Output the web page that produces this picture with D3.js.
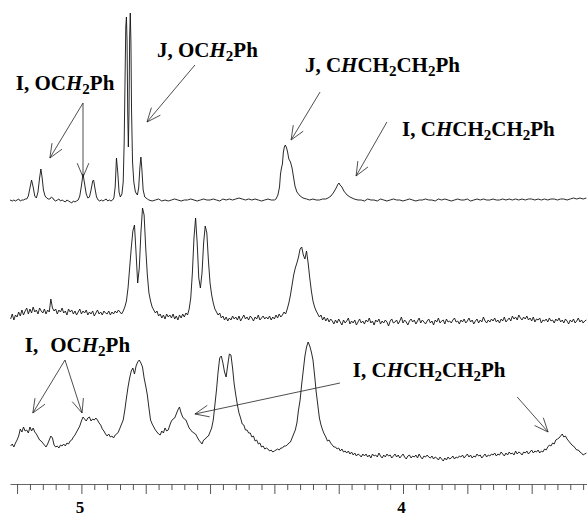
<!DOCTYPE html>
<html>
<head>
<meta charset="utf-8">
<script src="https://cdn.jsdelivr.net/npm/d3@7"></script>
<style>
  body { margin: 0; background: #fff; }
  svg { display: block; }
  .lbl { font-family: "Liberation Serif", "Times New Roman", serif; font-weight: bold; font-size: 21px; fill: #000; }
  .ppm { font-family: "Liberation Serif", "Times New Roman", serif; font-weight: bold; font-size: 17px; }
</style>
</head>
<body>
<div id="chart"></div>
<script>
// chemical shift window (ppm), axis runs right to left
const ppmDomain = [5.222, 3.428];

// top spectrum: [ppm, intensity]
const topTrace = [
  [5.222,2],[5.215,1],[5.21,2],[5.205,1],[5.20,2],[5.195,3],[5.19,1],[5.185,2],[5.18,2],[5.175,3],
  [5.17,3],[5.165,6],[5.16,14],[5.155,22],[5.15,15],[5.145,6],[5.14,4],[5.135,10],[5.13,24],[5.126,33],
  [5.122,24],[5.118,12],[5.113,6],[5.108,4],[5.103,3],[5.098,3],[5.093,5],[5.089,4],[5.085,2],[5.08,1],
  [5.075,2],[5.07,3],[5.065,1],[5.06,2],[5.055,1],[5.05,0],[5.045,2],[5.04,1],[5.035,0],[5.03,-1],
  [5.025,1],[5.02,0],[5.015,1],[5.01,2],[5.005,6],[5.0,16],[4.995,28],[4.99,18],[4.985,8],[4.98,4],
  [4.975,5],[4.97,12],[4.965,21],[4.962,22],[4.958,14],[4.953,5],[4.948,2],[4.943,1],[4.938,2],[4.933,1],
  [4.928,2],[4.923,3],[4.918,1],[4.913,2],[4.908,1],[4.903,2],[4.899,4],[4.895,15],[4.891,44],[4.887,30],
  [4.883,10],[4.879,5],[4.874,8],[4.870,20],[4.867,60],[4.864,130],[4.862,175],[4.860,185],[4.858,160],[4.856,90],
  [4.854,55],[4.852,90],[4.850,165],[4.848,189],[4.846,160],[4.844,90],[4.841,40],[4.837,20],[4.832,10],[4.826,7],
  [4.822,14],[4.818,35],[4.815,45],[4.812,33],[4.808,12],[4.803,5],[4.795,3],
  [4.79,2],[4.78,1],[4.77,2],[4.76,3],[4.75,1],[4.74,2],[4.73,1],[4.72,2],[4.71,3],[4.70,2],
  [4.69,1],[4.68,2],[4.67,2],[4.66,3],[4.65,2],[4.64,1],[4.63,2],[4.62,3],[4.61,2],[4.60,2],
  [4.59,3],[4.58,2],[4.57,1],[4.56,3],[4.55,2],[4.54,3],[4.53,2],[4.52,3],[4.51,4],[4.50,3],
  [4.49,2],[4.48,3],[4.47,2],[4.46,3],[4.45,2],[4.44,1],[4.43,2],[4.42,3],[4.41,2],[4.40,2],
  [4.395,3],[4.389,7],[4.384,15],[4.381,28],[4.378,34],[4.375,38],[4.372,50],[4.369,55],[4.366,57],[4.362,54],
  [4.359,50],[4.355,43],[4.350,40],[4.345,34],[4.341,26],[4.336,16],[4.330,10],[4.320,6],[4.311,4],[4.30,3],
  [4.29,2],[4.28,3],[4.27,2],[4.26,2],[4.25,3],[4.24,3],[4.233,4],[4.224,6],[4.215,10],[4.208,14],
  [4.202,18],[4.199,19],[4.196,17],[4.190,15],[4.184,11],[4.174,7],[4.165,5],[4.152,3],[4.14,2],
  [4.13,2],[4.12,1],[4.11,3],[4.10,2],[4.09,2],[4.08,1],[4.07,3],[4.06,2],[4.05,1],[4.04,2],
  [4.03,3],[4.02,2],[4.01,2],[4.00,1],[3.99,2],[3.98,3],[3.97,2],[3.96,1],[3.95,2],[3.94,2],
  [3.93,3],[3.92,2],[3.91,2],[3.90,1],[3.89,3],[3.88,2],[3.87,3],[3.86,2],[3.85,1],[3.84,2],
  [3.83,3],[3.82,2],[3.81,2],[3.80,3],[3.79,1],[3.78,2],[3.77,3],[3.76,2],[3.75,3],[3.74,2],
  [3.73,2],[3.72,3],[3.71,2],[3.70,2],[3.69,3],[3.68,2],[3.67,3],[3.66,2],[3.65,3],[3.64,2],
  [3.63,3],[3.62,2],[3.61,3],[3.60,3],[3.59,2],[3.58,3],[3.57,2],[3.56,3],[3.55,2],[3.54,3],
  [3.53,3],[3.52,2],[3.51,3],[3.50,3],[3.49,2],[3.48,3],[3.47,4],[3.46,3],[3.45,4],[3.44,3],[3.43,4]
];

// middle and bottom spectra sampled on a fixed ppm grid
const gridStart = 5.22, gridStep = 0.005;
const middleInt = [
  4,9,3,8,6,11,7,13,8,12,15,9,14,10,16,11,13,9,15,12,
  10,14,9,13,11,24,15,12,14,9,13,11,15,10,12,8,14,11,13,9,
  12,8,11,14,9,12,10,13,8,11,9,12,7,10,13,9,11,8,12,10,
  9,12,8,11,9,12,10,13,11,9,12,16,22,35,55,75,92,98,70,40,
  55,90,115,108,75,48,30,22,16,13,10,12,7,9,5,8,4,9,6,8,
  5,9,4,7,3,8,5,9,6,10,8,14,25,50,85,105,80,45,35,50,
  80,97,90,62,40,28,20,14,11,8,10,5,7,3,6,2,5,3,7,4,
  6,3,7,2,5,8,4,6,3,7,5,2,6,4,8,3,5,7,4,6,
  4,7,3,6,4,8,5,9,6,8,11,9,14,20,28,38,48,55,60,66,
  74,76,68,64,72,60,45,32,22,16,12,9,6,8,3,6,2,5,1,4,
  2,-1,3,0,4,1,-2,3,0,2,5,-1,2,0,3,-2,1,4,0,2,
  -1,3,1,5,0,2,-2,3,1,4,-1,2,0,3,1,-3,2,4,0,1,
  3,-1,2,6,0,3,1,-2,2,4,1,3,-1,2,5,0,3,1,-1,2,
  4,0,2,-2,3,1,5,0,2,3,-1,4,1,2,0,3,5,1,2,-1,
  3,1,4,0,2,5,1,3,-1,2,4,0,3,1,6,2,0,3,1,4,
  2,5,1,3,0,4,2,6,1,3,5,2,7,4,6,3,8,5,3,6,
  4,7,3,5,2,6,1,4,3,5,0,3,2,4,1,5,2,3,0,4,
  2,5,1,3,0,4,2,-1,3,1,4,0,2,5,1,3,0,2,3
];
const bottomInt = [
  14,16,13,17,20,24,31,28,33,29,30,27,33,29,32,28,26,23,20,19,
  17,15,13,16,20,24,22,15,13,14,12,15,14,16,14,17,16,19,20,23,
  25,28,31,34,39,43,41,39,42,43,39,41,40,42,40,37,35,31,29,26,
  24,26,23,24,22,25,26,28,32,36,40,50,62,73,82,89,92,86,94,98,
  100,97,93,82,74,65,52,40,36,33,30,28,26,25,29,27,32,29,30,35,
  39,41,42,46,50,53,47,43,41,40,36,32,30,28,27,26,23,20,18,16,
  20,21,23,24,28,32,40,55,70,88,102,104,97,88,83,95,106,105,92,76,
  65,55,47,42,36,35,30,30,27,27,23,24,19,20,16,17,13,14,11,12,
  11,9,10,8,9,10,11,10,12,12,14,14,15,17,18,22,26,30,37,50,
  60,76,90,104,113,118,114,108,100,85,68,55,42,35,30,26,23,19,20,17,
  15,13,13,11,12,9,11,8,9,7,9,6,8,5,7,4,6,5,3,6,
  4,6,3,5,2,6,4,5,3,7,4,2,5,3,6,4,5,2,4,6,
  3,5,2,4,6,3,1,4,5,2,4,3,5,2,6,3,1,4,3,5,
  3,2,4,1,3,2,0,3,1,-1,2,0,3,1,2,4,1,3,2,4,
  3,5,2,4,6,3,5,2,4,3,6,4,5,2,4,6,3,5,4,6,
  5,7,4,6,5,8,6,4,7,5,8,6,7,5,9,6,8,7,5,8,
  7,9,6,8,10,7,9,8,10,7,9,8,11,10,13,15,14,17,16,20,
  21,22,24,26,23,24,21,19,17,15,14,12,10,10,8,7,5,6,7
];

// axis ticks (ppm)
const majorTicks = [5.2, 5.0, 4.8, 4.6, 4.4, 4.2, 4.0, 3.8, 3.6];
const minorTicks = d3.range(0, 45).map(i => +(5.2 - i * 0.04).toFixed(2));
const tickLabels = [5, 4];

// peak assignments: [text, style] parts ("i" italic, "s" subscript, "gap" wider space)
const labels = [
  { trace: "top", ppm: 5.204, int: 112, parts: [["I, OC"], ["H", "i"], ["2", "s"], ["Ph"]] },
  { trace: "top", ppm: 4.765, int: 145, parts: [["J, OC"], ["H", "i"], ["2", "s"], ["Ph"]] },
  { trace: "top", ppm: 4.305, int: 130, parts: [["J, C"], ["H", "i"], ["CH"], ["2", "s"], ["CH"], ["2", "s"], ["Ph"]] },
  { trace: "top", ppm: 4.003, int: 66, parts: [["I, C"], ["H", "i"], ["CH"], ["2", "s"], ["CH"], ["2", "s"], ["Ph"]] },
  { trace: "bottom", ppm: 5.176, int: 108, parts: [["I,"], ["OC", "gap"], ["H", "i"], ["2", "s"], ["Ph"]] },
  { trace: "bottom", ppm: 4.156, int: 83, parts: [["I, C"], ["H", "i"], ["CH"], ["2", "s"], ["CH"], ["2", "s"], ["Ph"]] }
];

// arrows: tail -> tip, [ppm, intensity] on a given trace
const arrows = [
  { trace: "top", from: [4.995, 99], to: [5.098, 44] },
  { trace: "top", from: [4.995, 99], to: [4.995, 25] },
  { trace: "top", from: [4.647, 137], to: [4.796, 80] },
  { trace: "top", from: [4.258, 110], to: [4.348, 62] },
  { trace: "top", from: [4.050, 80], to: [4.146, 26] },
  { trace: "bottom", from: [5.051, 100], to: [5.151, 47] },
  { trace: "bottom", from: [5.051, 100], to: [4.998, 47] },
  { trace: "bottom", from: [4.196, 77], to: [4.647, 46] },
  { trace: "bottom", from: [3.645, 63], to: [3.549, 28] }
];

const width = 587, height = 519;
const axisY = 484;
const traceBase = { top: 202, middle: 323, bottom: 460 };

const svg = d3.select("#chart").append("svg")
  .attr("width", width).attr("height", height);
svg.append("rect").attr("width", width).attr("height", height).attr("fill", "#fff");

const x = d3.scaleLinear().domain(ppmDomain).range([10, 587]);
const y = d3.scaleLinear().domain([0, 200]).range([0, -200]);

const line = d3.line().x(d => x(d[0])).y(d => y(d[1]));

const gridPts = arr => arr.map((v, i) => [gridStart - i * gridStep, v]);
const spectra = [
  { trace: "top", pts: topTrace },
  { trace: "middle", pts: gridPts(middleInt) },
  { trace: "bottom", pts: gridPts(bottomInt) }
];

spectra.forEach(s => {
  svg.append("g")
    .attr("transform", `translate(0,${traceBase[s.trace]})`)
    .append("path")
    .attr("d", line(s.pts))
    .attr("fill", "none")
    .attr("stroke", "#111")
    .attr("stroke-width", 0.9)
    .attr("stroke-linejoin", "round");
});

// axis
const xAxis = d3.axisBottom(x)
  .tickValues(minorTicks)
  .tickSize(6)
  .tickSizeOuter(0)
  .tickFormat("");
const ax = svg.append("g").attr("transform", `translate(0,${axisY})`).call(xAxis);
ax.select(".domain").attr("stroke", "#666");
ax.selectAll(".tick line")
  .attr("stroke", "#555")
  .attr("y2", d => majorTicks.some(m => Math.abs(m - d) < 1e-6) ? 10 : 6);

ax.selectAll(".ppm").data(tickLabels).enter().append("text")
  .attr("class", "ppm")
  .attr("x", d => x(d) - 1.5)
  .attr("y", 29)
  .attr("text-anchor", "middle")
  .attr("fill", "#000")
  .text(d => d);

// arrows
const ptY = (trace, v) => traceBase[trace] + y(v);
const arrowG = svg.append("g").attr("stroke", "#222").attr("stroke-width", 0.8).attr("fill", "none");
arrows.forEach(a => {
  const x1 = x(a.from[0]), y1 = ptY(a.trace, a.from[1]);
  const x2 = x(a.to[0]), y2 = ptY(a.trace, a.to[1]);
  arrowG.append("line").attr("x1", x1).attr("y1", y1).attr("x2", x2).attr("y2", y2);
  const ang = Math.atan2(y1 - y2, x1 - x2);
  [-0.4, 0.4].forEach(da => {
    arrowG.append("line")
      .attr("x1", x2).attr("y1", y2)
      .attr("x2", x2 + 15 * Math.cos(ang + da))
      .attr("y2", y2 + 15 * Math.sin(ang + da));
  });
});

// labels
labels.forEach(l => {
  const t = svg.append("text").attr("class", "lbl")
    .attr("x", x(l.ppm)).attr("y", ptY(l.trace, l.int));
  let shift = 0;
  l.parts.forEach(([s, kind]) => {
    const sp = t.append("tspan").text(s);
    if (kind === "i") sp.attr("font-style", "italic");
    if (kind === "gap") sp.attr("dx", 12);
    if (kind === "s") {
      sp.attr("font-size", 15).attr("dy", 4);
      shift = 4;
    } else if (shift) {
      sp.attr("dy", -shift);
      shift = 0;
    }
  });
});
</script>
</body>
</html>
